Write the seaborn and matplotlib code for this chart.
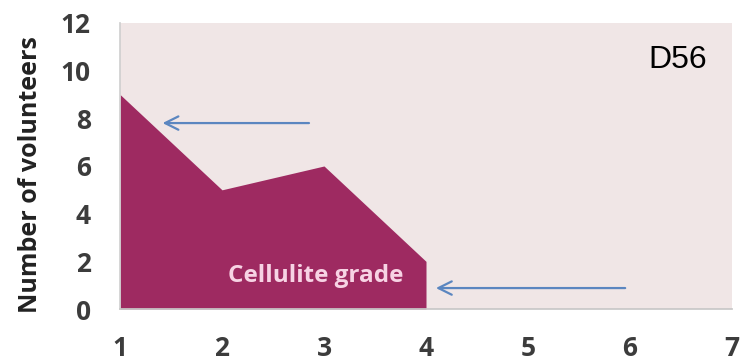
import matplotlib
matplotlib.use("Agg")
import matplotlib.pyplot as plt
import seaborn as sns
import pandas as pd

# cellulite grade vs number of volunteers (D56)
grades = [1, 2, 3, 4, 4]
volunteers = [9, 5, 6, 2, 0]
x_ticks = [1, 2, 3, 4, 5, 6, 7]
y_ticks = [0, 2, 4, 6, 8, 10, 12]

sns.set_theme(style="white")
plt.rcParams['font.family'] = ['Open Sans', 'DejaVu Sans']

df = pd.DataFrame({"grade": grades, "volunteers": volunteers})

fig = plt.figure(figsize=(7.5, 3.64), dpi=100)
ax = fig.add_axes([0.16, 0.151, 0.816, 0.786])
ax.set_facecolor("#f0e6e6")

sns.lineplot(data=df, x="grade", y="volunteers", ax=ax, color="#9e2a61",
             linewidth=0, sort=False, estimator=None)
ax.fill_between(df["grade"], df["volunteers"], 0, color="#9e2a61", linewidth=0)

ax.set_xlim(1, 7)
ax.set_ylim(0, 12)
ax.set_xticks(x_ticks)
ax.set_yticks(y_ticks)
ax.tick_params(axis="both", labelsize=19, colors="#3c3c3c", width=1,
               direction="out")
ax.tick_params(axis="x", length=4, pad=15)
ax.tick_params(axis="y", length=7, pad=14)
for lab in ax.get_xticklabels() + ax.get_yticklabels():
    lab.set_fontweight("bold")
ax.tick_params(axis="both", color="#c8c8c8")

for s in ["top", "right"]:
    ax.spines[s].set_visible(False)
ax.spines["left"].set_color("#d0d0d0")
ax.spines["bottom"].set_color("#c8c8c8")

ax.set_xlabel("")
ax.set_ylabel("Number of volunteers", fontsize=18, fontweight="bold",
              color="#222222")
ax.yaxis.set_label_coords(-0.125, 0.47)

ax.text(0.959, 0.87, "D56", transform=ax.transAxes, fontsize=23,
        family="Liberation Sans", ha="right", va="center", color="black")
ax.text(2.92, 1.4, "Cellulite grade", fontsize=17.5, fontweight="bold",
        color="#f7d3e4", ha="center", va="center")

arrow = dict(arrowstyle="->", color="#5b86c0", lw=1.6, mutation_scale=24)
ax.annotate("", xy=(1.39, 7.8), xytext=(2.88, 7.8), arrowprops=arrow)
ax.annotate("", xy=(4.07, 0.88), xytext=(5.98, 0.88), arrowprops=arrow)

fig.savefig("out.png", dpi=100)
